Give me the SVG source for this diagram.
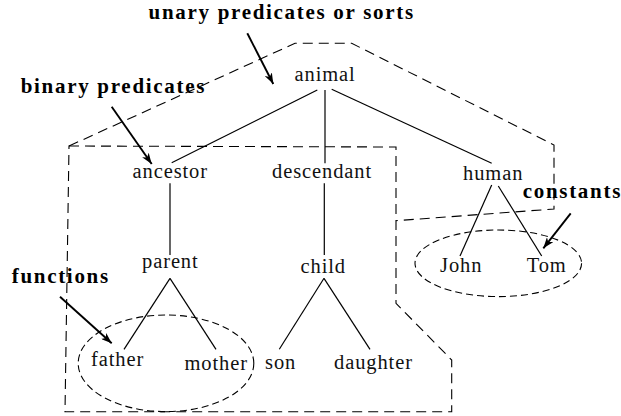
<svg xmlns="http://www.w3.org/2000/svg" width="621" height="416" viewBox="0 0 621 416">
<defs>
  <marker id="ah" markerUnits="userSpaceOnUse" markerWidth="12" markerHeight="8" refX="11" refY="4" orient="auto">
    <path d="M0,0 L11,4 L0,8 L3,4 Z" fill="#000"/>
  </marker>
</defs>
<rect width="621" height="416" fill="#fff"/>

<g id="regions" stroke="#000" stroke-width="1.1" fill="none">
  <path id="sorts-region" stroke-dasharray="10 6" d="M69,146 L295,43.3 L351.7,43.3 L554,145 L554,209 L396,220.7"/>
  <path id="binary-region" stroke-dasharray="10 6" d="M69,146 L396,147 L396,303.3 L451.7,360 L451.7,411.7 L65,411.7 Z"/>
  <ellipse id="constants-region" stroke-dasharray="7 4" cx="498.3" cy="263.3" rx="83.3" ry="33.3"/>
  <ellipse id="functions-region" stroke-dasharray="7 4" cx="166" cy="363.3" rx="87.8" ry="48.3"/>
</g>

<g id="connectors" stroke="#000" fill="none">
  <g id="edges" stroke-width="1.2">
    <line x1="317.3" y1="90" x2="171.7" y2="162.7"/>
    <line x1="325" y1="90" x2="325" y2="163.3"/>
    <line x1="331.7" y1="89.3" x2="491.7" y2="163.3"/>
    <line x1="170" y1="183.3" x2="170" y2="255"/>
    <line x1="324.3" y1="183.3" x2="324.3" y2="255"/>
    <line x1="491.7" y1="185" x2="460" y2="256"/>
    <line x1="498.3" y1="186" x2="541.7" y2="256"/>
    <line x1="170" y1="278.3" x2="124" y2="349.3"/>
    <line x1="170" y1="278.3" x2="216" y2="349.3"/>
    <line x1="324" y1="278.3" x2="279.3" y2="349.3"/>
    <line x1="324" y1="278.3" x2="370" y2="349.3"/>
  </g>
  <g id="pointers" stroke-width="1.9">
    <line x1="247.3" y1="33.3" x2="273.3" y2="84" marker-end="url(#ah)"/>
    <line x1="111.7" y1="106.7" x2="151.7" y2="164" marker-end="url(#ah)"/>
    <line x1="570.7" y1="213.3" x2="543.3" y2="248.3" marker-end="url(#ah)"/>
    <line x1="60" y1="296.7" x2="111.7" y2="343.3" marker-end="url(#ah)"/>
  </g>
</g>

<g id="label-unary"><text font-family="Liberation Serif" font-size="21" font-weight="bold" letter-spacing="1.7" x="148.5" y="18.5">unary predicates or sorts</text></g>
<g id="label-binary"><text font-family="Liberation Serif" font-size="21" font-weight="bold" letter-spacing="1.7" x="20.7" y="93.3">binary predicates</text></g>
<g id="label-constants"><text font-family="Liberation Serif" font-size="21" font-weight="bold" letter-spacing="1.7" x="522.7" y="198.3">constants</text></g>
<g id="label-functions"><text font-family="Liberation Serif" font-size="21" font-weight="bold" letter-spacing="1.7" x="11.7" y="283.3">functions</text></g>

<g id="node-animal"><text font-family="Liberation Serif" font-size="20.5" letter-spacing="0.9" fill="#111" x="294.5" y="80.7">animal</text></g>
<g id="node-ancestor"><text font-family="Liberation Serif" font-size="20.5" letter-spacing="0.9" fill="#111" x="132.5" y="178.3">ancestor</text></g>
<g id="node-descendant"><text font-family="Liberation Serif" font-size="20.5" letter-spacing="0.9" fill="#111" x="272" y="178.3">descendant</text></g>
<g id="node-human"><text font-family="Liberation Serif" font-size="20.5" letter-spacing="0.9" fill="#111" x="463" y="180">human</text></g>
<g id="node-parent"><text font-family="Liberation Serif" font-size="20.5" letter-spacing="0.9" fill="#111" x="142" y="268.3">parent</text></g>
<g id="node-child"><text font-family="Liberation Serif" font-size="20.5" letter-spacing="0.9" fill="#111" x="300.5" y="272.7">child</text></g>
<g id="node-john"><text font-family="Liberation Serif" font-size="20.5" letter-spacing="0.9" fill="#111" x="440" y="271.7">John</text></g>
<g id="node-tom"><text font-family="Liberation Serif" font-size="20.5" letter-spacing="0.9" fill="#111" x="526.7" y="271.7">Tom</text></g>
<g id="node-father"><text font-family="Liberation Serif" font-size="20.5" letter-spacing="0.9" fill="#111" x="91" y="365.5">father</text></g>
<g id="node-mother"><text font-family="Liberation Serif" font-size="20.5" letter-spacing="0.9" fill="#111" x="184.5" y="369.5">mother</text></g>
<g id="node-son"><text font-family="Liberation Serif" font-size="20.5" letter-spacing="0.9" fill="#111" x="265" y="368.5">son</text></g>
<g id="node-daughter"><text font-family="Liberation Serif" font-size="20.5" letter-spacing="0.9" fill="#111" x="334" y="368.5">daughter</text></g>
</svg>
